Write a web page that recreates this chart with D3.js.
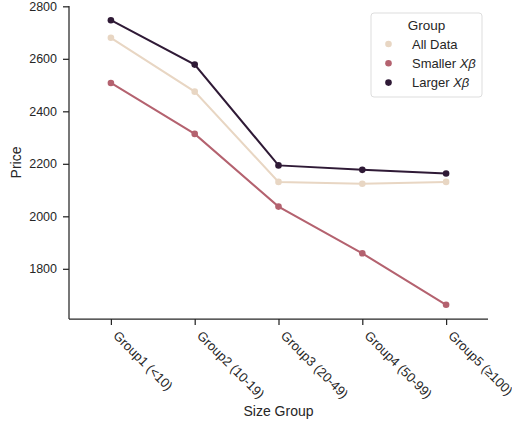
<!DOCTYPE html>
<html>
<head>
<meta charset="utf-8">
<script src="https://cdn.jsdelivr.net/npm/d3@7"></script>
<style>
  html, body { margin: 0; padding: 0; background: #fff; }
  svg { display: block; font-family: Arial, "Liberation Sans", sans-serif; }
</style>
</head>
<body>
<svg id="chart" width="512" height="423"></svg>
<script>
// Price by size group for three data subsets
const categories = ["Group1 (<10)", "Group2 (10-19)", "Group3 (20-49)", "Group4 (50-99)", "Group5 (\u2265100)"];
const allData   = [2680, 2475, 2131, 2124, 2131];
const smaller   = [2508, 2314, 2037, 1859, 1663];
const larger    = [2747, 2578, 2194, 2177, 2163];
const yTicks    = [1800, 2000, 2200, 2400, 2600, 2800];

const seriesList = [
  { key: "All Data", values: allData, color: "#e8d6c3" },
  { key: "Smaller", values: smaller, color: "#b4626f" },
  { key: "Larger",  values: larger,  color: "#2f1a36" }
];

const svg = d3.select("#chart");
const margin = { left: 69, right: 24, top: 6, bottom: 104 };
const W = 512, H = 423;
const axisColor = "#262626";

const x = d3.scalePoint()
  .domain(categories)
  .range([margin.left, W - margin.right])
  .padding(0.5);

const allVals = allData.concat(smaller, larger);
const yMin = d3.min(allVals), yMax = d3.max(allVals);
const pad = (yMax - yMin) * 0.05;
const y = d3.scaleLinear()
  .domain([yMin - pad, yMax + pad])
  .range([H - margin.bottom, margin.top]);

// Axes
const xAxis = svg.append("g")
  .attr("transform", `translate(0,${H - margin.bottom})`)
  .call(d3.axisBottom(x).tickSize(6));
xAxis.select(".domain").attr("d", `M${margin.left},0H${W - margin.right}`);
xAxis.selectAll("text")
  .attr("text-anchor", "start")
  .attr("x", 0).attr("y", 0).attr("dy", 0).attr("dx", 0)
  .attr("transform", "translate(1,17.5) rotate(45)")
  .style("font-size", "13px")
  .attr("fill", axisColor);

const yAxis = svg.append("g")
  .attr("transform", `translate(${margin.left},0)`)
  .call(d3.axisLeft(y).tickValues(yTicks).tickFormat(d3.format("d")).tickSize(6).tickPadding(6));
yAxis.select(".domain").attr("d", `M0,${y.range()[1]}V${y.range()[0]}`);
yAxis.selectAll("text").style("font-size", "12.5px").attr("fill", axisColor);

[xAxis, yAxis].forEach(g => {
  g.selectAll(".domain, .tick line").attr("stroke", axisColor).attr("stroke-width", 1.25);
});

// Axis titles
svg.append("text")
  .attr("x", (margin.left + W - margin.right) / 2)
  .attr("y", 416)
  .attr("text-anchor", "middle")
  .style("font-size", "14px")
  .attr("fill", axisColor)
  .text("Size Group");

svg.append("text")
  .attr("transform", `translate(21,${(y.range()[0] + y.range()[1]) / 2}) rotate(-90)`)
  .attr("text-anchor", "middle")
  .style("font-size", "14px")
  .attr("fill", axisColor)
  .text("Price");

// Lines and markers
const line = d3.line()
  .x((d, i) => x(categories[i]))
  .y(d => y(d));

seriesList.forEach(s => {
  const g = svg.append("g");
  g.append("path")
    .datum(s.values)
    .attr("d", line)
    .attr("fill", "none")
    .attr("stroke", s.color)
    .attr("stroke-width", 2);
  g.selectAll("circle")
    .data(s.values)
    .join("circle")
    .attr("cx", (d, i) => x(categories[i]))
    .attr("cy", d => y(d))
    .attr("r", 3.3)
    .attr("fill", s.color);
});

// Legend
const leg = svg.append("g").attr("transform", "translate(371,13)");
leg.append("rect")
  .attr("width", 111).attr("height", 84)
  .attr("rx", 3)
  .attr("fill", "#fff")
  .attr("stroke", "#dddddd")
  .attr("stroke-width", 1);
leg.append("text")
  .attr("x", 55.5).attr("y", 17)
  .attr("text-anchor", "middle")
  .style("font-size", "13.5px")
  .attr("fill", axisColor)
  .text("Group");

const legendLabels = [
  { text: "All Data", beta: false },
  { text: "Smaller ", beta: true },
  { text: "Larger ", beta: true }
];
legendLabels.forEach((l, i) => {
  const cy = 31 + i * 19.3;
  leg.append("circle")
    .attr("cx", 17.5).attr("cy", cy).attr("r", 3.3)
    .attr("fill", seriesList[i].color);
  const t = leg.append("text")
    .attr("x", 41).attr("y", cy + 4.5)
    .style("font-size", "13px")
    .attr("fill", axisColor);
  t.append("tspan").text(l.text);
  if (l.beta) {
    t.append("tspan").style("font-style", "italic").text("X\u03b2");
  }
});
</script>
</body>
</html>
